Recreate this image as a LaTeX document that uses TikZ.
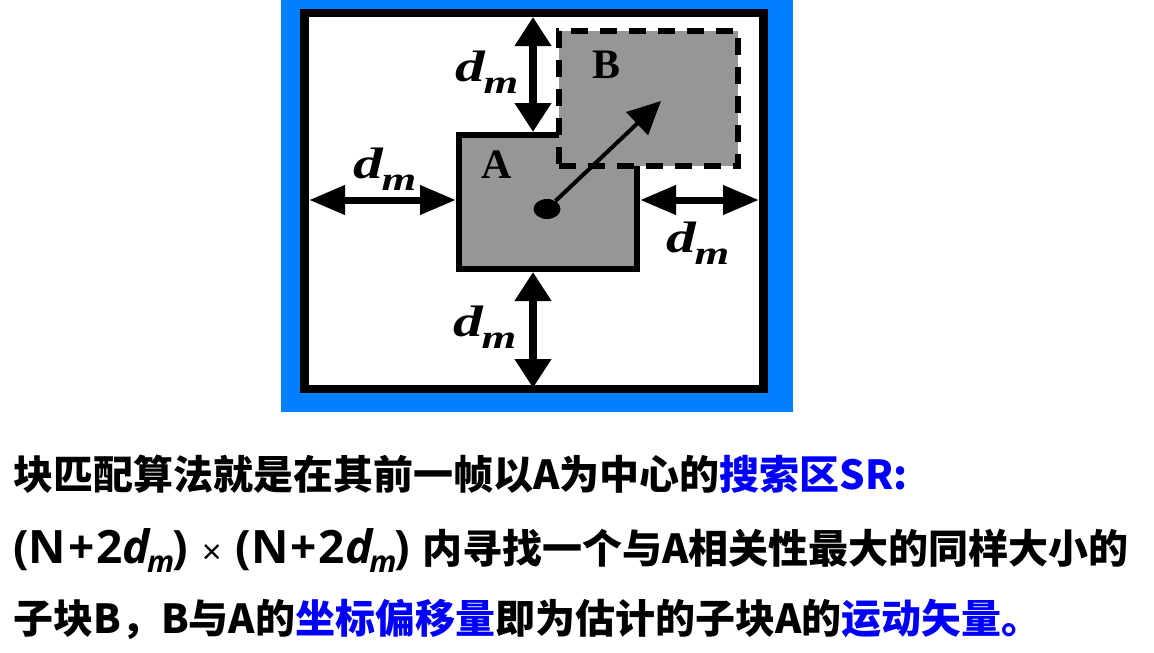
\documentclass[tikz,border=0pt]{standalone}
\usepackage{fontspec}
\usetikzlibrary{arrows.meta,shapes.geometric,calc}
\newfontfamily\cjk{Noto Sans CJK SC}
\newfontfamily\lblfont{Liberation Serif}
\newfontfamily\lblwide[FakeStretch=1.35]{Liberation Serif}
\newfontfamily\itsans{Open Sans}
\newfontfamily\xfont{Liberation Sans}
\definecolor{bgblue}{RGB}{0,128,255}
\definecolor{blockgray}{RGB}{150,150,150}
\definecolor{kwblue}{RGB}{0,0,250}
% d_m in the picture and in the text
\newcommand{\dmlab}{{\lblwide\bfseries\itshape\fontsize{44}{44}\selectfont d\kern-2pt\raisebox{-12pt}{\fontsize{33}{33}\selectfont m}}}
\newcommand{\dmgrp}{{\itsans\bfseries\fontsize{46}{46}\selectfont (N\kern2pt+\kern2pt2{\itshape d}\kern-3pt\raisebox{-9pt}{\itshape\fontsize{30}{30}\selectfont m}\kern-2pt)}}
\tikzset{
  frame/.style={draw, fill=white, line width=8.5pt, minimum width=459pt, minimum height=376pt, inner sep=0pt},
  blockA/.style={draw, fill=blockgray, line width=6pt, minimum width=178pt, minimum height=134pt, inner sep=0pt},
  blockB/.style={draw, fill=blockgray, line width=6pt, dash pattern=on 17pt off 12pt, minimum width=179pt, minimum height=135pt, inner sep=0pt},
  blocklab/.style={font=\lblfont\bfseries\fontsize{42}{42}\selectfont, inner sep=0pt},
  dimv/.style={line width=8pt, {Triangle[length=29pt,width=35pt]}-{Triangle[length=29pt,width=35pt]}},
  dimh/.style={line width=7pt, {Triangle[length=36pt,width=28pt]}-{Triangle[length=36pt,width=28pt]}},
  mv/.style={line width=4pt, -{Triangle[length=33pt,width=31pt]}},
  txt/.style={anchor=base west, inner sep=0pt, font=\cjk\bfseries\fontsize{40}{40}\selectfont}
}
\begin{document}
\begin{tikzpicture}[x=1pt,y=-1pt]
  \useasboundingbox (0,0) rectangle (1154,653);
  \fill[bgblue] (281,0) rectangle (793,412);

  \node[frame] (SR) at (534,201) {};
  \node[blockA] (A) at (548,202) {};
  \node[blockB] (B) at (648.5,98.5) {};
  \node[blocklab] (Alab) at (497,165) {A};
  \node[blocklab] (Blab) at (606,65) {B};

  % motion vector
  \node[ellipse, fill, minimum width=27pt, minimum height=20pt, inner sep=0pt] (c) at (547,209) {};
  \coordinate (tip) at (661,101);
  \draw[mv] (c) -- (tip);

  % search range d_m
  \coordinate (t) at (533,17);
  \coordinate (b) at (533,388);
  \coordinate (l) at (309,200);
  \coordinate (r) at (759,200);
  \draw[dimv] (t) -- (t |- A.north);
  \draw[dimv] (b |- A.south) -- (b);
  \draw[dimh] (l) -- (l -| A.west);
  \draw[dimh] (A.east |- r) -- (r);

  \foreach \n/\x/\y in {dmtop/487/72, dmleft/385/169, dmright/698/243, dmbot/485/327} {
    \node[inner sep=0pt] (\n) at (\x,\y) {\dmlab};
  }

  \node[txt] (line1) at (13,489) {块匹配算法就是在其前一帧以A为中心的\textcolor{kwblue}{搜索区SR:}};
  \node[txt] (line2) at (13,563) {\dmgrp\hspace{14pt}{\xfont\mdseries\fontsize{34}{34}\selectfont ×}\hspace{14pt}\dmgrp\hspace{12pt}内寻找一个与A相关性最大的同样大小的};
  \node[txt] (line3) at (13,633) {子块B，B与A的\textcolor{kwblue}{坐标偏移量}即为估计的子块A的\textcolor{kwblue}{运动矢量。}};
\end{tikzpicture}
\end{document}
